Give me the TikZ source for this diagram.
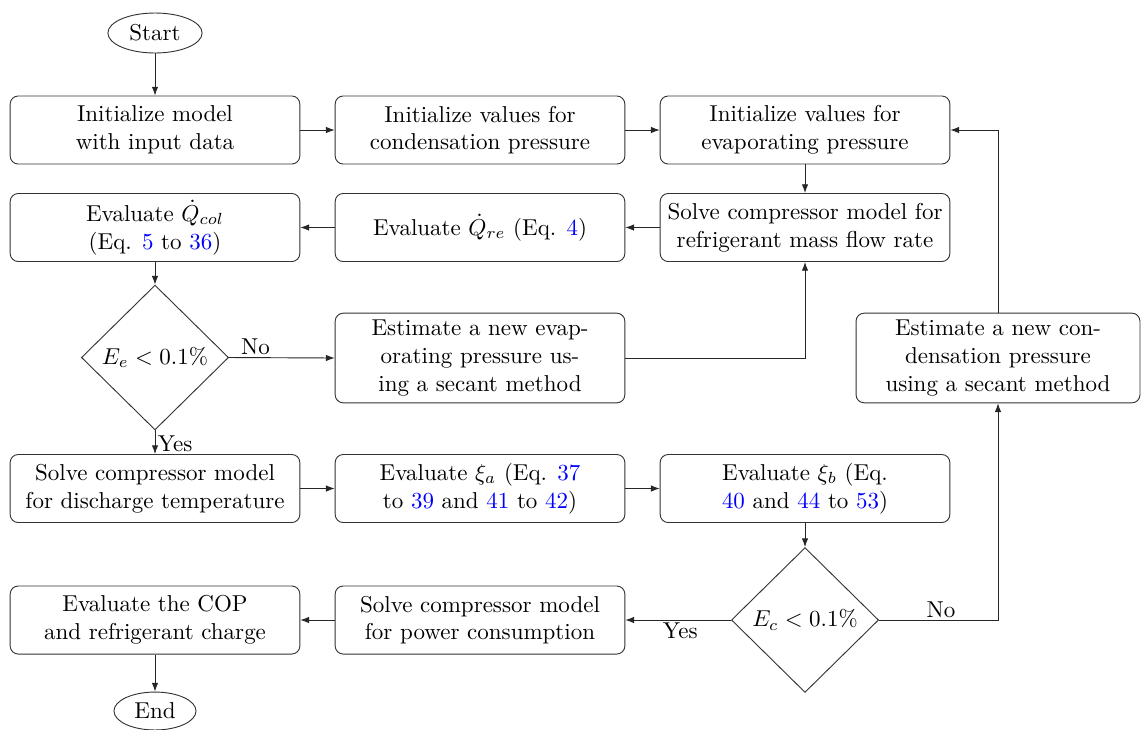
\documentclass[tikz,border=0pt]{standalone}
\usetikzlibrary{shapes.geometric,arrows.meta}
\begin{document}
\begin{tikzpicture}[x=0.435pt,y=-0.435pt,
  every node/.style={font=\normalsize},
  flowbox/.style={draw=black!80,rounded corners=3.5pt,minimum width=126pt,minimum height=29.6pt,align=center,inner sep=2pt},
  tallbox/.style={flowbox,minimum height=39pt},
  term/.style={draw=black!80,ellipse,inner sep=0pt},
  decision/.style={draw=black!80,diamond,minimum width=64pt,minimum height=63pt,inner sep=0pt},
  flow/.style={draw=black!85,-{Latex[length=3.8pt,width=2.8pt]}},
  lbl/.style={inner sep=1pt}
]
\useasboundingbox (0,0) rectangle (1143,729);

% terminals
\node[term,minimum width=41pt,minimum height=17.4pt] (start) at (155,33) {Start};
\node[term,minimum width=35.7pt,minimum height=16.5pt] (finish) at (155,711) {End};

% first row
\node[flowbox] (initmod) at (155,130) {Initialize model\\with input data};
\node[flowbox] (initcond) at (480,130) {Initialize values for\\condensation pressure};
\node[flowbox] (initevap) at (805,130) {Initialize values for\\evaporating pressure};

% second row
\node[flowbox] (qcol) at (155,227.5) {Evaluate $\dot{Q}_{col}$\\(Eq. \textcolor{blue}{5} to \textcolor{blue}{36})};
\node[flowbox] (qre) at (480,227.5) {Evaluate $\dot{Q}_{re}$ (Eq. \textcolor{blue}{4})};
\node[flowbox] (massflow) at (805,227.5) {Solve compressor model for\\refrigerant mass flow rate};

% evaporating loop
\node[decision] (dEe) at (155,357.5) {$E_e<0.1\%$};
\node[tallbox] (newevap) at (480,358) {Estimate a new evap-\\orating pressure us-\\ing a secant method};
\node[tallbox,minimum width=123.5pt] (newcond) at (998,358) {Estimate a new con-\\densation pressure\\using a secant method};

% fourth row
\node[flowbox] (discharge) at (155,488.5) {Solve compressor model\\for discharge temperature};
\node[flowbox] (xia) at (480,488.5) {Evaluate $\xi_a$ (Eq. \textcolor{blue}{37}\\to \textcolor{blue}{39} and \textcolor{blue}{41} to \textcolor{blue}{42})};
\node[flowbox] (xib) at (805,488.5) {Evaluate $\xi_b$ (Eq.\\\textcolor{blue}{40} and \textcolor{blue}{44} to \textcolor{blue}{53})};

% condensation check and last row
\node[decision] (dEc) at (805,620) {$E_c<0.1\%$};
\node[flowbox] (cop) at (155,620) {Evaluate the COP\\and refrigerant charge};
\node[flowbox] (power) at (480,620) {Solve compressor model\\for power consumption};

% connectors
\draw[flow] (start) -- (initmod);
\draw[flow] (initmod) -- (initcond);
\draw[flow] (initcond) -- (initevap);
\draw[flow] (initevap) -- (massflow);
\draw[flow] (massflow) -- (qre);
\draw[flow] (qre) -- (qcol);
\draw[flow] (qcol) -- (dEe);
\draw[flow] (dEe.east) -- node[lbl,above,pos=0.25] {No} (newevap.west);
\draw[flow] (newevap.east) -| (massflow.south);
\draw[flow] (dEe.south) -- node[lbl,right,pos=0.55] {Yes} (discharge.north);
\draw[flow] (discharge) -- (xia);
\draw[flow] (xia) -- (xib);
\draw[flow] (xib.south) -- (dEc.north);
\draw[flow] (dEc.west) -- node[lbl,below,pos=0.48] {Yes} (power.east);
\draw[flow] (power) -- (cop);
\draw[flow] (cop) -- (finish);
\draw[flow] (dEc.east) -| node[lbl,above,pos=0.26] {No} (newcond.south);
\draw[flow] (newcond.north) |- (initevap.east);
\end{tikzpicture}
\end{document}
